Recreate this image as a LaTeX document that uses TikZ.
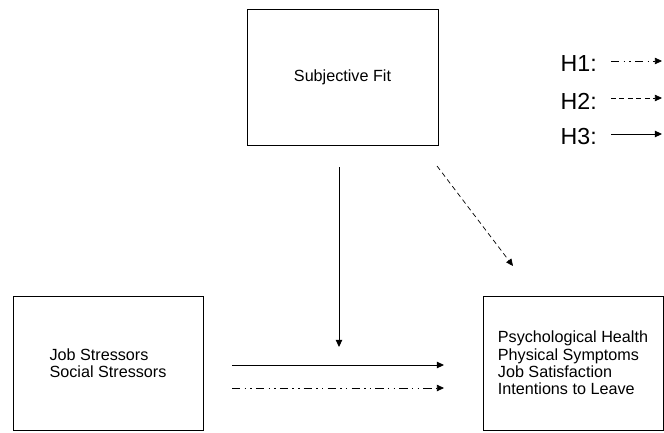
\documentclass[tikz,border=0pt]{standalone}
\usepackage{fontspec}
\setmainfont{Liberation Sans}
\usetikzlibrary{positioning, arrows.meta}
\tikzset{
    box/.style={draw, line width=0.6pt, inner sep=0pt, align=left, font=\fontsize{11.5}{12.4}\selectfont},
    link/.style={line width=0.7pt, -{Triangle[length=5pt, width=4.5pt]}},
    hone/.style={link, line width=0.5pt, dash pattern=on 6pt off 3pt on 1pt off 3pt on 1pt off 3pt},
    htwo/.style={link, line width=0.5pt, dash pattern=on 3.5pt off 2.5pt},
    hthree/.style={link},
    key/.style={font=\fontsize{16.5}{18}\selectfont, anchor=east, inner sep=0pt}
}
\begin{document}
\begin{tikzpicture}[x=0.025cm, y=-0.025cm]
    \useasboundingbox (0,0) rectangle (664,433);
    \node[box, minimum width=4.775cm, minimum height=3.4cm] (fit) at (342.5,77) {Subjective Fit};
    \node[box, minimum width=4.75cm, minimum height=3.35cm] (stress) at (108,363) {Job Stressors\\Social Stressors};
    \node[box, minimum width=4.5cm, minimum height=3.35cm] (outcome) at (573,363) {Psychological Health\\Physical Symptoms\\Job Satisfaction\\Intentions to Leave};
    \coordinate (main in) at (232,365);
    \coordinate (main out) at (444,365);
    \coordinate (alt in) at (232,388);
    \coordinate (alt out) at (444,388);
    \coordinate (mod in) at (339,167);
    \coordinate (mod out) at (339,347);
    \coordinate (diag in) at (437,166);
    \coordinate (diag out) at (513,266);
    \draw[hthree] (main in) -- (main out);
    \draw[hone] (alt in) -- (alt out);
    \draw[hthree] (mod in) -- (mod out);
    \draw[htwo] (diag in) -- (diag out);
    \node[key] (h1) at (597,64) {H1:};
    \node[key] (h2) at (597,101) {H2:};
    \node[key] (h3) at (597,137) {H3:};
    \coordinate (k1) at (662,61);
    \coordinate (k2) at (662,98);
    \coordinate (k3) at (662,134);
    \draw[hone] ([xshift=0.35cm]h1.east |- k1) -- (k1);
    \draw[htwo] ([xshift=0.35cm]h2.east |- k2) -- (k2);
    \draw[hthree] ([xshift=0.35cm]h3.east |- k3) -- (k3);
\end{tikzpicture}
\end{document}
